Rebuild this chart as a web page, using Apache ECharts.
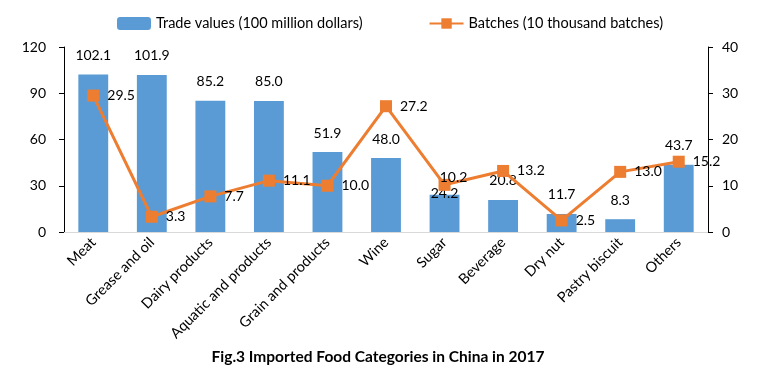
<!DOCTYPE html>
<html><head><meta charset="utf-8">
<script src="https://cdn.jsdelivr.net/npm/echarts@6/dist/echarts.min.js"></script>
<style>html,body{margin:0;padding:0;background:#fff}#c{width:773px;height:379px}</style>
</head><body><div id="c"></div>
<script>
const categories = ["Meat","Grease and oil","Dairy products","Aquatic and products","Grain and products","Wine","Sugar","Beverage","Dry nut","Pastry biscuit","Others"];
const tradeValues = [102.1,101.9,85.2,85.0,51.9,48.0,24.2,20.8,11.7,8.3,43.7];
const batches = [29.5,3.3,7.7,11.1,10.0,27.2,10.2,13.2,2.5,13.0,15.2];
const leftTicks = [0,30,60,90,120];
const rightTicks = [0,10,20,30,40];

const FONT = "Lato";
const chart = echarts.init(document.getElementById('c'));
chart.setOption({
  animation:false,
  textStyle:{fontFamily:FONT},
  title:{text:"Fig.3 Imported Food Categories in China in 2017",left:373,textAlign:'center',top:344,
    textStyle:{fontFamily:FONT,fontSize:15.5,fontWeight:'bold',color:'#000'}},
  legend:{top:11,left:112,itemWidth:34,itemHeight:13,itemGap:66,
    textStyle:{fontFamily:FONT,fontSize:14.5,color:'#000'}},
  grid:{left:64,right:65,top:47,bottom:147},
  xAxis:{type:'category',data:categories,
    axisLine:{lineStyle:{color:'#d9d9d9'}},axisTick:{show:false},
    axisLabel:{rotate:45,color:'#000',fontSize:14.5,fontFamily:FONT,interval:0,margin:8}},
  yAxis:[
    {type:'value',min:leftTicks[0],max:leftTicks[leftTicks.length-1],interval:30,
     axisLine:{show:true,lineStyle:{color:'#000'}},axisTick:{show:true,length:5,lineStyle:{color:'#000'}},
     splitLine:{show:false},axisLabel:{color:'#000',fontSize:14,margin:18}},
    {type:'value',min:rightTicks[0],max:rightTicks[rightTicks.length-1],interval:10,
     axisLine:{show:true,lineStyle:{color:'#000'}},axisTick:{show:true,length:5,lineStyle:{color:'#000'}},
     splitLine:{show:false},axisLabel:{color:'#000',fontSize:14,margin:14}}
  ],
  series:[
    {name:"Trade values (100 million dollars)",type:'bar',
     data:tradeValues.map((v,i)=> i===6 ? {value:v,label:{distance:-6}} : v),barWidth:'51%',
     itemStyle:{color:'#5B9BD5'},
     label:{show:true,position:'top',distance:12,color:'#000',fontSize:14,formatter:p=>p.value.toFixed(1)}},
    {name:"Batches (10 thousand batches)",type:'line',yAxisIndex:1,
     data:batches.map((v,i)=> i===6 ? {value:v,label:{position:'top',distance:-6,offset:[9,0]}} : v),
     symbol:'rect',symbolSize:12,lineStyle:{color:'#ED7D31',width:3},itemStyle:{color:'#ED7D31'},
     label:{show:true,position:'right',distance:8,color:'#000',fontSize:14,formatter:p=>p.value.toFixed(1)}}
  ]
});
</script></body></html>
